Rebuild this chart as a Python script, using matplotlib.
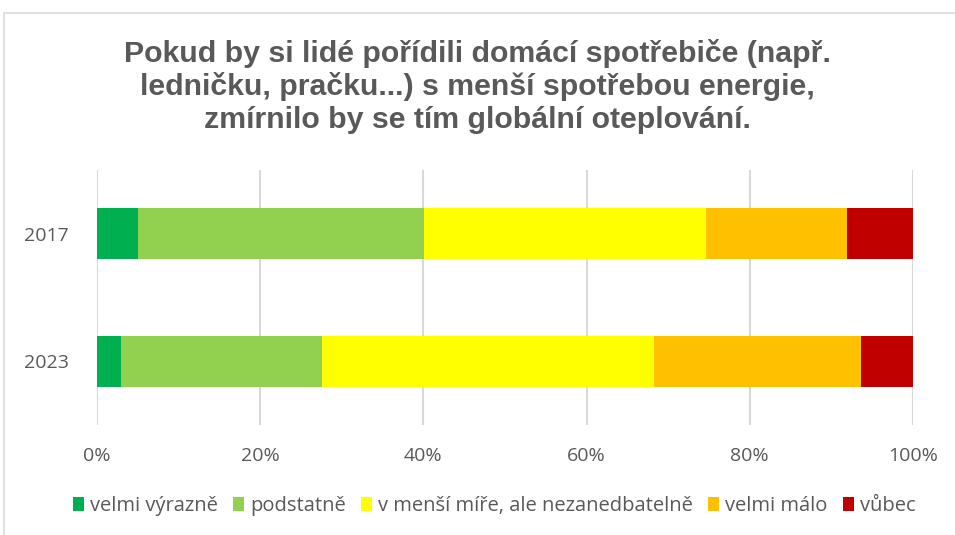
import matplotlib.pyplot as plt
import matplotlib.patches as mpatches
import numpy as np

# data
roky = ['2017', '2023']
kategorie = ['velmi výrazně', 'podstatně', 'v menší míře, ale nezanedbatelně', 'velmi málo', 'vůbec']
hodnoty_2017 = [5.0, 35.1, 34.5, 17.3, 8.1]
hodnoty_2023 = [3.0, 24.6, 40.6, 25.4, 6.4]
barvy = ['#00B050', '#92D050', '#FFFF00', '#FFC000', '#C00000']

sedo = '#595959'

fig = plt.figure(figsize=(9.55, 5.35), dpi=100)
ax = fig.add_axes([97 / 955, 1 - 425 / 535, 816 / 955, 255 / 535])

# ramecek kolem grafu
fig.patches.append(mpatches.Rectangle((4 / 955, -0.1), 1.1, 1 - 13 / 535 + 0.1,
                                      transform=fig.transFigure, fill=False,
                                      edgecolor='#D9D9D9', linewidth=1.2))

data = np.array([hodnoty_2017, hodnoty_2023])
y = np.arange(len(roky))
left = np.zeros(len(roky))
for i, k in enumerate(kategorie):
    ax.barh(y, data[:, i], left=left, height=0.4, color=barvy[i], label=k, zorder=3)
    left += data[:, i]

ax.set_xlim(0, 100)
ax.set_ylim(1.5, -0.5)
ax.set_yticks(y)
ax.set_yticklabels(roky)
ax.set_xticks(np.arange(0, 101, 20))
ax.set_xticklabels([f'{v}%' for v in range(0, 101, 20)])
ax.grid(axis='x', color='#D9D9D9', linewidth=1.5, zorder=0)
for s in ax.spines.values():
    s.set_visible(False)
ax.tick_params(length=0, colors=sedo, labelsize=14)
for t in ax.get_xticklabels() + ax.get_yticklabels():
    t.set_fontfamily('Open Sans')
ax.tick_params(axis='x', pad=16)
ax.tick_params(axis='y', pad=20)

fig.text(0.5, 1 - 86 / 535,
         'Pokud by si lidé pořídili domácí spotřebiče (např.\nledničku, pračku...) s menší spotřebou energie,\nzmírnilo by se tím globální oteplování.',
         ha='center', va='center', fontsize=21.8, fontweight='bold', color=sedo,
         family='Liberation Sans', linespacing=1.2)

leg = fig.legend(loc='center', bbox_to_anchor=(494 / 955, 1 - 506 / 535), ncol=5, frameon=False,
                 prop={'family': 'Open Sans', 'size': 14.5}, handlelength=0.55, handleheight=0.75,
                 handletextpad=0.3, columnspacing=0.75)
for t in leg.get_texts():
    t.set_color(sedo)

fig.savefig('out.png', dpi=100)
